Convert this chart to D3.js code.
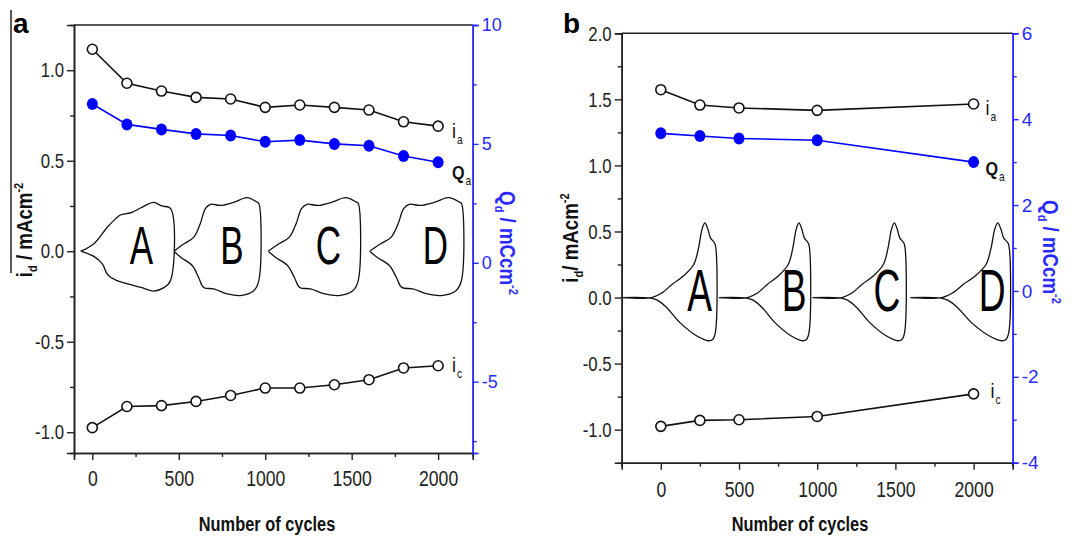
<!DOCTYPE html>
<html><head><meta charset="utf-8">
<script src="https://cdn.jsdelivr.net/npm/d3@7"></script>
<style>
body{margin:0;background:#fff;}
svg text{font-family:'Liberation Sans',Arial,sans-serif;}
</style></head>
<body><svg id="c" width="1072" height="541"></svg>
<script>
// ---------- data (panel a) ----------
const cyclesA = [0,200,400,600,800,1000,1200,1400,1600,1800,2000];
const iaA = [1.116,0.928,0.885,0.850,0.841,0.795,0.808,0.795,0.780,0.715,0.691];
const qaA = [6.68,5.82,5.61,5.42,5.35,5.09,5.16,5.00,4.92,4.49,4.23];
const icA = [-0.975,-0.858,-0.853,-0.830,-0.797,-0.756,-0.756,-0.738,-0.710,-0.645,-0.633];
// ---------- data (panel b) ----------
const cyclesB = [0,250,500,1000,2000];
const iaB = [1.573,1.457,1.435,1.417,1.465];
const qaB = [3.67,3.61,3.55,3.51,3.00];
const icB = [-0.975,-0.930,-0.925,-0.900,-0.729];
// ---------- tick values ----------
const xMajor = [0,500,1000,1500,2000];
const xMinorA = [250,750,1250,1750];
const xMinorB = [-250,250,750,1250,1750,2250];
const yMajorA = [-1,-0.5,0,0.5,1];
const yMinorA = [-0.75,-0.25,0.25,0.75];
const y2MajorA = [-5,0,5,10];
const y2MinorA = [-7.5,-2.5,2.5,7.5];
const yMajorB = [-1,-0.5,0,0.5,1,1.5,2];
const yMinorB = [-0.75,-0.25,0.25,0.75,1.25,1.75];
const y2MajorB = [-4,-2,0,2,4,6];
const y2MinorB = [-3,-1,1,3,5];
// ---------- inset CV sketches ----------
const insetLetters = ["A","B","C","D"];
const insetSpanA = [[-67,453],[472,963],[1017,1538],[1604,2135]];
const insetLetterXA = [284,807,1365,1984];
const insetSpanB = [[-250,348],[371,947],[970,1558],[1595,2224]];
const insetLetterXB = [248,853,1446,2118];
const cvShapeA1 = [[0,0],[0.15,0.043],[0.30,0.135],[0.39,0.18],[0.44,0.2],[0.57,0.215],[0.67,0.24],[0.81,0.27],[0.90,0.25],[1.0,0.235],[1.0,-0.16],[0.93,-0.2],[0.81,-0.22],[0.67,-0.2],[0.52,-0.18],[0.39,-0.16],[0.30,-0.13],[0.24,-0.07],[0.15,-0.03],[0,0]];
const cvShapeA2 = [[0,0],[0.12,0.041],[0.235,0.078],[0.31,0.152],[0.37,0.235],[0.43,0.259],[0.55,0.253],[0.71,0.271],[0.86,0.296],[0.98,0.271],[1.0,0.264],[1.0,-0.162],[0.94,-0.218],[0.78,-0.245],[0.63,-0.236],[0.47,-0.208],[0.35,-0.2],[0.29,-0.144],[0.215,-0.079],[0.08,-0.033],[0,0]];
const cvShapeB = [[0,0],[0.32,0.0],[0.43,0.035],[0.54,0.10],[0.66,0.163],[0.77,0.25],[0.82,0.37],[0.86,0.52],[0.89,0.565],[0.92,0.52],[0.95,0.45],[0.98,0.425],[1.0,0.40],[1.0,-0.27],[0.97,-0.32],[0.93,-0.327],[0.80,-0.289],[0.62,-0.188],[0.48,-0.075],[0.38,-0.02],[0.30,-0.003],[0,0]];

const BLUE = "#0000ff", AXBLUE = "#2a2aff", DARK = "#222";
const NARROW = 0.8;
const svg = d3.select("#c");

// emulate a condensed face by horizontal scaling of each axis label
function condense(sel, sx){
  sel.selectAll("text").each(function(){
    const t = d3.select(this);
    const xv = +(t.attr("x")||0);
    t.attr("x", xv/sx).attr("transform", `scale(${sx},1)`);
  });
}

function panel(o){
  const g = svg.append("g");
  const x = d3.scaleLinear(o.xDom, o.xRange);
  const y = d3.scaleLinear(o.yDom, o.yRange);
  const y2 = d3.scaleLinear(o.y2Dom, o.yRange);
  const [L,R] = o.xRange, [B,T] = o.yRange;
  const fmt1 = d => d.toFixed(1);
  const fmt0 = d => String(d);
  function styleAx(sel, color, fs){
    sel.select(".domain").attr("stroke", color).attr("stroke-width",1.6);
    sel.selectAll(".tick line").attr("stroke", color).attr("stroke-width",1.4);
    sel.selectAll("text").attr("fill", color).attr("font-size", fs).style("font-family","'Liberation Sans',Arial,sans-serif");
  }
  // left
  g.append("g").attr("transform",`translate(${L},0)`).call(d3.axisLeft(y).tickValues(o.yMinor).tickSize(4).tickFormat("")).call(s=>styleAx(s,DARK,20));
  g.append("g").attr("transform",`translate(${L},0)`).call(d3.axisLeft(y).tickValues(o.yMajor).tickSize(7).tickPadding(3).tickFormat(fmt1)).call(s=>{styleAx(s,DARK,21);condense(s,NARROW);});
  // bottom
  g.append("g").attr("transform",`translate(0,${B})`).call(d3.axisBottom(x).tickValues(o.xMinor).tickSize(4).tickFormat("")).call(s=>styleAx(s,DARK,21));
  g.append("g").attr("transform",`translate(0,${B})`).call(d3.axisBottom(x).tickValues(xMajor).tickSize(7).tickPadding(o.xPad).tickFormat(fmt0)).call(s=>{styleAx(s,DARK,22);condense(s,NARROW);});
  // top frame
  g.append("line").attr("x1",L).attr("x2",R).attr("y1",T).attr("y2",T).attr("stroke",DARK).attr("stroke-width",1.6);
  // right
  g.append("g").attr("transform",`translate(${R},0)`).call(d3.axisRight(y2).tickValues(o.y2Minor).tickSize(4).tickFormat("")).call(s=>styleAx(s,AXBLUE,17));
  g.append("g").attr("transform",`translate(${R},0)`).call(d3.axisRight(y2).tickValues(o.y2Major).tickSize(6).tickPadding(3).tickFormat(fmt0)).call(s=>styleAx(s,AXBLUE,o.y2fs));

  // insets
  o.spans.forEach((sp,k)=>{
    const shape = o.shapeFor(k);
    const line = d3.line().x(p=>x(sp[0]+p[0]*(sp[1]-sp[0]))).y(p=>y(p[1])).curve(d3.curveCatmullRom.alpha(0.5));
    g.append("path").attr("d",line(shape)).attr("fill","none").attr("stroke","#111").attr("stroke-width",1.3);
    g.append("text").attr("transform",`translate(${x(o.letterX[k])},${y(o.letterY)}) scale(${o.letterSx},1)`)
      .attr("text-anchor","middle").attr("font-size",o.letterFs).attr("fill","#000").text(insetLetters[k]);
  });

  // series
  const lineI = d3.line().x((d,i)=>x(o.cycles[i])).y(d=>y(d));
  const lineQ = d3.line().x((d,i)=>x(o.cycles[i])).y(d=>y2(d));
  [o.ia,o.ic].forEach(arr=>{
    g.append("path").attr("d",lineI(arr)).attr("fill","none").attr("stroke","#111").attr("stroke-width",1.6);
    g.selectAll(null).data(arr).join("circle").attr("cx",(d,i)=>x(o.cycles[i])).attr("cy",d=>y(d))
      .attr("r",5).attr("fill","#fff").attr("stroke","#111").attr("stroke-width",1.6);
  });
  g.append("path").attr("d",lineQ(o.qa)).attr("fill","none").attr("stroke",BLUE).attr("stroke-width",1.6);
  g.selectAll(null).data(o.qa).join("ellipse").attr("cx",(d,i)=>x(o.cycles[i])).attr("cy",d=>y2(d))
    .attr("rx",5.5).attr("ry",6).attr("fill",BLUE);

  // series labels
  const n = o.cycles.length-1, lx = x(o.cycles[n]);
  function lab(txt, sub, px, py, bold, fs){
    const t = g.append("text").attr("transform",`translate(${px},${py}) scale(0.85,1)`).attr("font-size",fs).attr("fill","#111");
    t.append("tspan").text(txt).attr("font-weight",bold?"bold":"normal");
    t.append("tspan").text(sub).attr("font-size",12).attr("dy",6).attr("dx",1);
  }
  lab("i","a", lx+o.labDx, y(o.ia[n])+o.iaDy, false, 21);
  lab("Q","a", lx+o.labDx, y2(o.qa[n])+o.qaDy, true, 19);
  lab("i","c", lx+o.labDx+o.icDx, y(o.ic[n])+o.icDy, false, 21);

  // axis titles
  const ttl = g.append("text").attr("transform",`translate(${o.ltX},${o.ltY}) rotate(-90) scale(0.85,1)`).attr("text-anchor","middle")
    .attr("font-size",22).attr("font-weight","bold").attr("fill","#111");
  ttl.append("tspan").text("i");
  ttl.append("tspan").text("d").attr("font-size",13).attr("dy",5);
  ttl.append("tspan").text(o.leftSep+"mAcm").attr("dy",-5);
  ttl.append("tspan").text("-2").attr("font-size",13).attr("dy",-9);
  const rt = g.append("text").attr("transform",`translate(${o.rtX},${o.rtY}) rotate(90) scale(0.85,1)`).attr("text-anchor","middle")
    .attr("font-size",22).attr("font-weight","bold").attr("fill",AXBLUE);
  rt.append("tspan").text("Q");
  rt.append("tspan").text("d").attr("font-size",13).attr("dy",5);
  rt.append("tspan").text(" / mCcm").attr("dy",-5);
  rt.append("tspan").text("-2").attr("font-size",13).attr("dy",-9);
  g.append("text").attr("transform",`translate(${o.xtX},531) scale(0.78,1)`).attr("text-anchor","middle").attr("font-size",21)
    .attr("font-weight","bold").attr("fill","#111").text("Number of cycles");
  g.append("text").attr("x",o.pl[0]).attr("y",o.pl[1]).attr("font-size",28).attr("font-weight","bold")
    .attr("fill","#000").text(o.letter);
}

panel({xDom:[-106,2200], xRange:[74,472.7], yDom:[-1.115,1.25], y2Dom:[-8,10], yRange:[453,25],
  yMajor:yMajorA, yMinor:yMinorA, y2Major:y2MajorA, y2Minor:y2MinorA, xMinor:xMinorA, xPad:10, y2fs:18,
  cycles:cyclesA, ia:iaA, qa:qaA, ic:icA,
  spans:insetSpanA, shapeFor:k=>k===0?cvShapeA1:cvShapeA2, letterX:insetLetterXA, letterY:-0.07, letterFs:53, letterSx:0.66,
  labDx:14, iaDy:12, qaDy:17, icDy:6, icDx:0,
  ltX:32, ltY:230, leftSep:" / ", rtX:500, rtY:243, xtX:267, pl:[13,33], letter:"a"});
panel({xDom:[-250,2250], xRange:[621.7,1012.7], yDom:[-1.25,2.0], y2Dom:[-4,6], yRange:[462.7,33.3],
  yMajor:yMajorB, yMinor:yMinorB, y2Major:y2MajorB, y2Minor:y2MinorB, xMinor:xMinorB, xPad:12, y2fs:19,
  cycles:cyclesB, ia:iaB, qa:qaB, ic:icB,
  spans:insetSpanB, shapeFor:k=>cvShapeB, letterX:insetLetterXB, letterY:-0.10, letterFs:60, letterSx:0.62,
  labDx:12, iaDy:11, qaDy:13, icDy:4, icDx:5,
  ltX:578, ltY:238, leftSep:"/ ", rtX:1043, rtY:252, xtX:800, pl:[563,33], letter:"b"});
// stray vertical rule at far left of panel a
svg.append("line").attr("x1",11).attr("x2",11).attr("y1",10).attr("y2",273).attr("stroke","#222").attr("stroke-width",1.5);
</script></body></html>
